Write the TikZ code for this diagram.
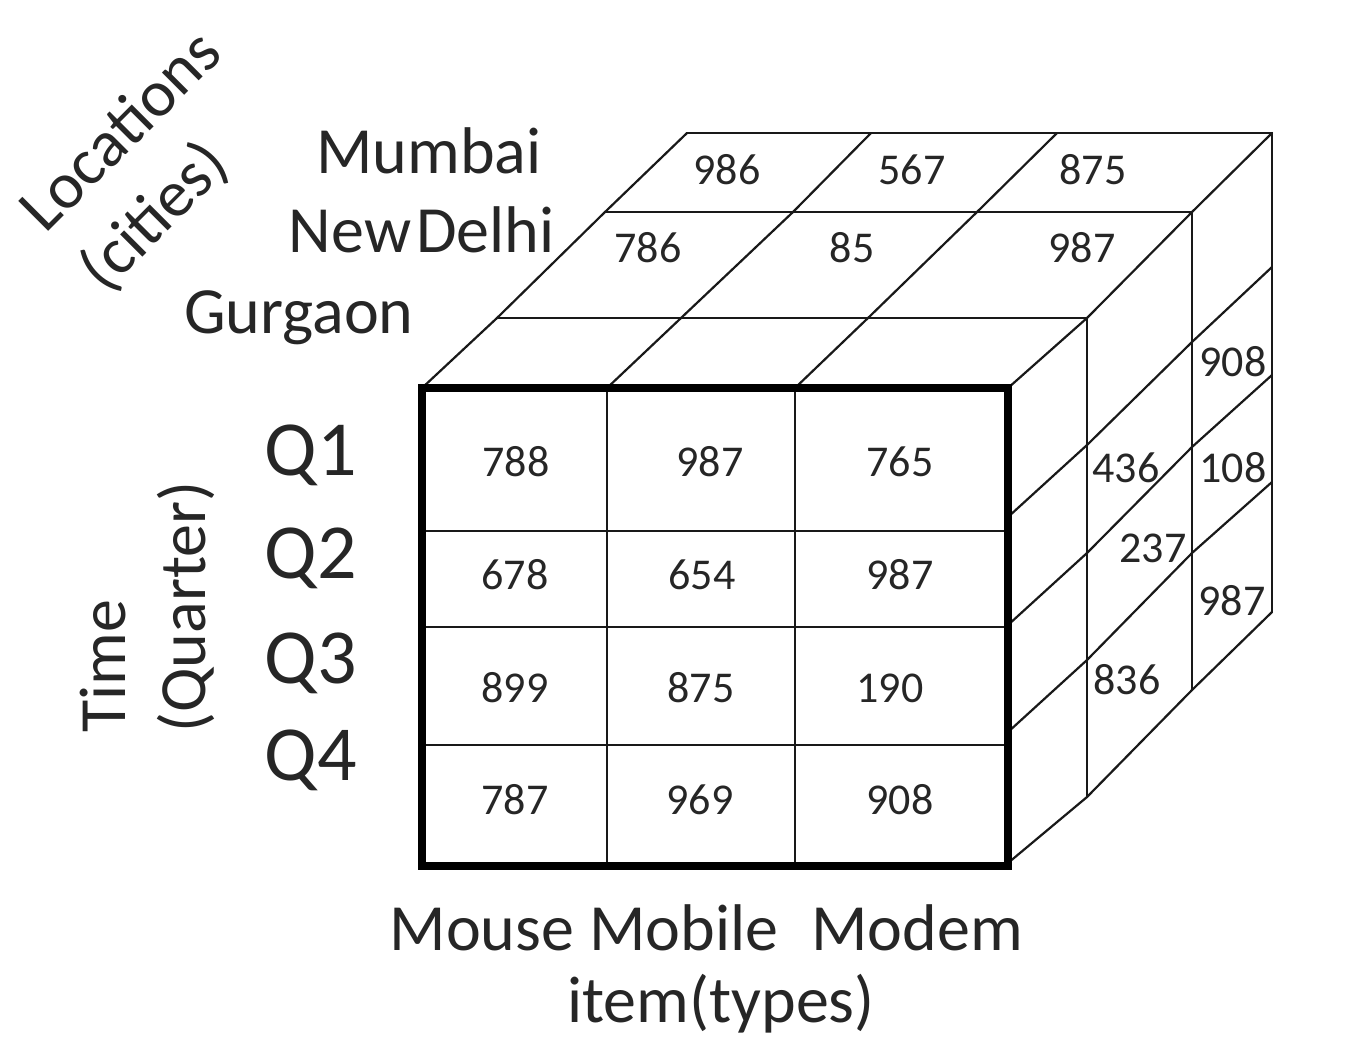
\documentclass[tikz,border=0pt]{standalone}
\usepackage{fontspec}
\setmainfont{Carlito}
\begin{document}
\begin{tikzpicture}[x=0.5pt,y=-0.5pt,
  thinline/.style={line width=1.1pt, draw=black!90, line cap=round},
  thickline/.style={line width=4pt, draw=black, line join=miter},
  num/.style={font=\fontsize{22}{26}\selectfont, inner sep=0pt, text=black!85},
  lab/.style={font=\fontsize{33}{40}\selectfont, inner sep=0pt, text=black!85},
  rlab/.style={font=\fontsize{33}{42}\selectfont, inner sep=0pt, text=black!85},
  qlab/.style={font=\fontsize{39}{46}\selectfont, inner sep=0pt, text=black!85}]
\useasboundingbox (0,0) rectangle (1348,1056);

% ---------- top face ----------
\draw[thinline] (422,388) -- (497,318) -- (605,212) -- (687,133);
\draw[thinline] (607,388) -- (681,318) -- (793,212) -- (871,133);
\draw[thinline] (795,388) -- (868,318) -- (977,212) -- (1057,133);
\draw[thinline] (1008,388) -- (1087,318) -- (1192,212) -- (1272,133);
\draw[thinline] (497,318) -- (1087,318);
\draw[thinline] (605,212) -- (1192,212);
\draw[thinline] (687,133) -- (1272,133);

% ---------- right face ----------
\draw[thinline] (1087,318) -- (1087,797);
\draw[thinline] (1192,212) -- (1192,690);
\draw[thinline] (1272,133) -- (1272,612);
\draw[thinline] (1008,517) -- (1087,445) -- (1192,342) -- (1272,267);
\draw[thinline] (1008,625) -- (1087,553) -- (1192,447) -- (1272,375);
\draw[thinline] (1008,732) -- (1087,660) -- (1192,553) -- (1272,482);
\draw[thinline] (1008,863) -- (1087,797) -- (1192,690) -- (1272,612);

% ---------- front face ----------
\draw[thinline] (607,388) -- (607,866);
\draw[thinline] (795,388) -- (795,866);
\draw[thinline] (422,531) -- (1008,531);
\draw[thinline] (422,627) -- (1008,627);
\draw[thinline] (422,745) -- (1008,745);
\draw[thickline] (422,388) rectangle (1008,866);

% ---------- front values ----------
\node[num] (f11) at (516,462) {788};
\node[num] (f12) at (710,462) {987};
\node[num] (f13) at (900,462) {765};
\node[num] (f21) at (515,575) {678};
\node[num] (f22) at (702,575) {654};
\node[num] (f23) at (900,575) {987};
\node[num] (f31) at (515,688) {899};
\node[num] (f32) at (701,688) {875};
\node[num] (f33) at (890,688) {190};
\node[num] (f41) at (515,800) {787};
\node[num] (f42) at (700,800) {969};
\node[num] (f43) at (900,800) {908};

% ---------- top values ----------
\node[num] (t11) at (727,170) {986};
\node[num] (t12) at (912,170) {567};
\node[num] (t13) at (1093,170) {875};
\node[num] (t21) at (648,248) {786};
\node[num] (t22) at (852,248) {85};
\node[num] (t23) at (1082,248) {987};

% ---------- right values ----------
\node[num] (r1) at (1233,362) {908};
\node[num] (r2) at (1126,468) {436};
\node[num] (r3) at (1233,468) {108};
\node[num] (r4) at (1153,548) {237};
\node[num] (r5) at (1232,601) {987};
\node[num] (r6) at (1127,680) {836};

% ---------- labels ----------
\node[lab, anchor=base east] (mumbai) at (542,173) {Mumbai};
\node[lab, anchor=base east] (delhi) at (555,252) {New\kern2.5pt Delhi};
\node[lab, anchor=base east] (gurgaon) at (414,333) {Gurgaon};
\node[rlab, rotate=45, align=left] (loc) at (152,162) {Locations\\(cities)};

\node[qlab, anchor=base east] (q1) at (357,475) {Q1};
\node[qlab, anchor=base east] (q2) at (357,578) {Q2};
\node[qlab, anchor=base east] (q3) at (357,683) {Q3};
\node[qlab, anchor=base east] (q4) at (357,780) {Q4};
\node[lab, rotate=90, align=left] (time) at (147,607) {Time\\(Quarter)};

\node[lab, anchor=base] (mouse) at (482,950) {Mouse};
\node[lab, anchor=base] (mobile) at (684,950) {Mobile};
\node[lab, anchor=base] (modem) at (917,950) {Modem};
\node[lab, anchor=base] (item) at (721,1022) {item(types)};
\end{tikzpicture}
\end{document}
